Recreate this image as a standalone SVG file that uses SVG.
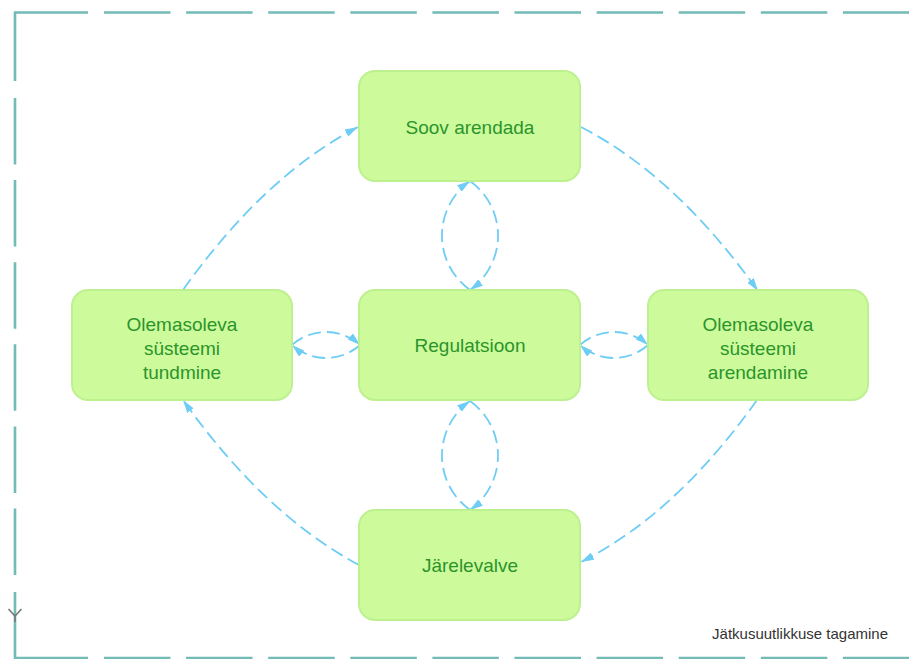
<svg xmlns="http://www.w3.org/2000/svg" width="909" height="659" viewBox="0 0 909 659">
<defs>
<style>
.node rect{fill:#cdfb9c;stroke:#bdf08f;stroke-width:2}
.node text{font-family:"Liberation Sans",Arial,sans-serif;font-size:19px;fill:#2b942b;text-anchor:middle}
.frame{fill:none;stroke:#72bbb7;stroke-width:2.6}
.dash{stroke-dasharray:66.5 15.6}
.conn path{fill:none;stroke:#6fcdf5;stroke-width:1.8;stroke-dasharray:13 6;marker-end:url(#arr)}
.label{font-family:"Liberation Sans",Arial,sans-serif;font-size:15px;fill:#333}
</style>
<marker id="arr" viewBox="0 0 13 8" refX="13" refY="4" markerWidth="13" markerHeight="8" markerUnits="userSpaceOnUse" orient="auto">
<path d="M0,0 L13,4 L0,8 z" fill="#6fcdf5"/>
</marker>
</defs>
<rect width="909" height="659" fill="#fff"/>
<g id="frame">
<path class="frame" d="M15,81 V12.5 H88"/>
<path class="frame dash" d="M104,12.5 H909"/>
<path class="frame dash" d="M15,98 V575"/>
<path class="frame" d="M15,592 V658 H88"/>
<path class="frame dash" d="M104,658 H909"/>
<path d="M8.5,609 L15,616 L21.5,609 M15,616 V622" fill="none" stroke="#777" stroke-width="1.6"/>
</g>
<g class="conn" id="connectors">
<path d="M183,290 Q264,176 358,127"/>
<path d="M581,127 Q676,176 758,291"/>
<path d="M757,400 Q676,514 581,562"/>
<path d="M359,565 Q264,514 183,400"/>
<path d="M470,290 A67,67 0 0 1 470,181"/>
<path d="M470,181 A67,67 0 0 1 470,290"/>
<path d="M470,510 A67,67 0 0 1 470,401"/>
<path d="M470,401 A67,67 0 0 1 470,510"/>
<path d="M292,345 A51,51 0 0 1 360,345"/>
<path d="M360,345 A51,51 0 0 1 292,345"/>
<path d="M580,345 A51,51 0 0 1 648,345"/>
<path d="M648,345 A51,51 0 0 1 580,345"/>
</g>
<g id="soov" class="node"><rect x="359" y="71" width="221" height="110" rx="16"/><text x="470" y="134">Soov arendada</text></g>
<g id="regulatsioon" class="node"><rect x="359" y="290" width="221" height="110" rx="16"/><text x="470" y="352">Regulatsioon</text></g>
<g id="tundmine" class="node"><rect x="72" y="290" width="220" height="110" rx="16"/><text x="182" y="331">Olemasoleva</text><text x="182" y="355">süsteemi</text><text x="182" y="379">tundmine</text></g>
<g id="arendamine" class="node"><rect x="648" y="290" width="220" height="110" rx="16"/><text x="758" y="331">Olemasoleva</text><text x="758" y="355">süsteemi</text><text x="758" y="379">arendamine</text></g>
<g id="jarelevalve" class="node"><rect x="359" y="510" width="221" height="110" rx="16"/><text x="470" y="572">Järelevalve</text></g>
<text class="label" x="888" y="639" text-anchor="end">Jätkusuutlikkuse tagamine</text>
</svg>
